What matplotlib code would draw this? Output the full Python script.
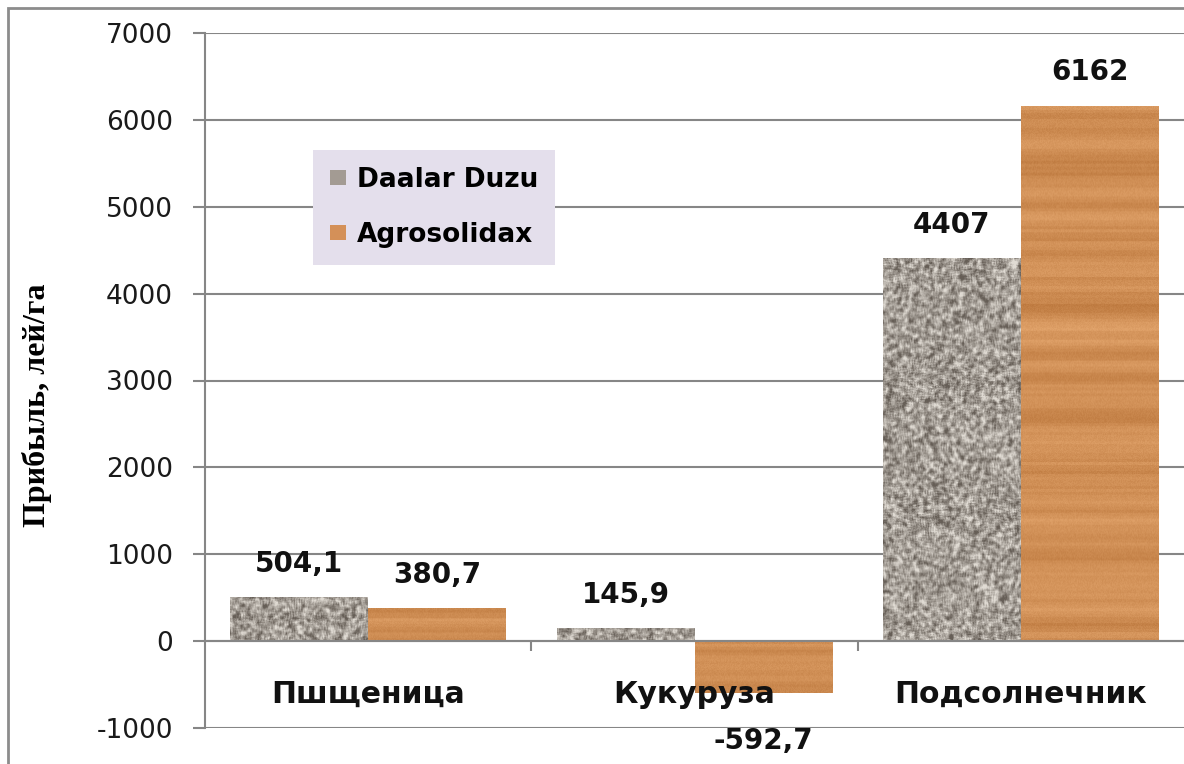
import numpy as np
import matplotlib
matplotlib.use('Agg')
import matplotlib.pyplot as plt
from matplotlib.patches import Rectangle

plt.rcParams['axes.unicode_minus'] = False

# data
categories = ['Пшщеница', 'Кукуруза', 'Подсолнечник']
daalar = [504.1, 145.9, 4407]
agro = [380.7, -592.7, 6162]
daalar_labels = ['504,1', '145,9', '4407']
agro_labels = ['380,7', '-592,7', '6162']
series_names = ['Daalar Duzu', 'Agrosolidax']

W, H = 1184, 764
fig = plt.figure(figsize=(W / 100, H / 100), dpi=100)
ax = fig.add_axes([205 / W, 1 - 728 / H, 1 - 205 / W, (728 - 33) / H])

# spines first: moving a spine resets the ticks
ax.spines['bottom'].set_position(('data', 0))
ax.spines['bottom'].set_color('#868686')
ax.spines['bottom'].set_linewidth(1.5)
ax.spines['bottom'].set_zorder(4)
ax.spines['left'].set_color('#868686')
ax.spines['left'].set_linewidth(1.5)
ax.spines['top'].set_visible(False)
ax.spines['right'].set_visible(False)

rng = np.random.default_rng(7)


def blur(a, n=5):
    k = np.ones(n) / n
    a = np.apply_along_axis(lambda r: np.convolve(r, k, mode='same'), 1, a)
    a = np.apply_along_axis(lambda c: np.convolve(c, k, mode='same'), 0, a)
    return a


def gravel(h, w):
    # grey speckled stone texture
    v = blur(rng.random((h + 8, w + 8)), 4)[4:-4, 4:-4]
    v = (v - v.mean()) / (v.std() + 1e-9)
    v = np.clip(0.5 + 0.22 * v + 0.12 * (rng.random((h, w)) - 0.5), 0, 1)
    dark = np.array([0.40, 0.37, 0.34])
    light = np.array([0.88, 0.86, 0.83])
    return dark + (light - dark) * v[..., None]


def wood(h, w):
    # orange wood grain, horizontal streaks
    rows = rng.random(h // 3 + 2)
    rows = np.convolve(rows, np.ones(3) / 3, mode='same')
    v = np.repeat(rows, 3)[:h][:, None] * np.ones((1, w))
    v = 0.8 * v + 0.2 * rng.random((h, w))
    dark = np.array([0.72, 0.45, 0.22])
    light = np.array([0.90, 0.66, 0.44])
    return dark + (light - dark) * v[..., None]


x = np.arange(len(categories))
bw = 0.422
b1 = ax.bar(x - bw / 2, daalar, bw, color='#a39b93', label=series_names[0], zorder=2)
b2 = ax.bar(x + bw / 2, agro, bw, color='#d49058', label=series_names[1], zorder=2)

for bars, tex in ((b1, gravel), (b2, wood)):
    for r in bars:
        x0, y0 = r.get_x(), r.get_y()
        w, h = r.get_width(), r.get_height()
        rows = int(abs(h) * 0.087) + 3
        im = ax.imshow(tex(rows, 138), extent=(x0, x0 + w, y0 + h, y0),
                       aspect='auto', zorder=3, interpolation='bilinear')
        im.set_clip_path(r)

for bars, labs in ((b1, daalar_labels), (b2, agro_labels)):
    for r, lab in zip(bars, labs):
        val = r.get_height()
        off = 24 if val >= 0 else -35
        ax.annotate(lab, (r.get_x() + r.get_width() / 2, val), xytext=(0, off),
                    textcoords='offset points', ha='center', va='center',
                    fontsize=20, fontweight='bold', color='#111111', zorder=6)

ax.set_xlim(-0.5, 2.5)
ax.set_ylim(-1000, 7000)
ax.set_yticks(range(-1000, 7001, 1000))
ax.tick_params(axis='y', length=9, width=1.5, color='#868686', labelsize=19,
               labelcolor='#1a1a1a', pad=14)
ax.yaxis.grid(True, color='#868686', linewidth=1.5, zorder=0)
ax.set_axisbelow(True)

ax.set_xticks(x)
ax.set_xticks([0.5, 1.5], minor=True)
ax.tick_params(axis='x', which='major', length=0, pad=28)
ax.tick_params(axis='x', which='minor', length=7, width=1.5, color='#868686',
               direction='out')
ax.set_xticklabels(categories, fontsize=21.5, fontweight='bold', color='#111111')
ax.xaxis.set_zorder(5)

ax.set_ylabel('Прибыль, лей/га', family='Liberation Serif', fontsize=23,
              fontweight='bold')
ax.yaxis.set_label_coords((52 - 205) / 979, (728 - 405) / 695)

leg = ax.legend(loc='upper left', bbox_to_anchor=(313 / W, 1 - 150 / H),
                bbox_transform=fig.transFigure, frameon=True, fancybox=False,
                facecolor='#e4dfec', edgecolor='none', framealpha=1,
                prop={'family': 'DejaVu Sans', 'weight': 'bold', 'size': 19},
                handlelength=0.6, handleheight=0.5, handletextpad=0.4,
                labelspacing=1.1, borderpad=0.65, borderaxespad=0)
leg.set_zorder(5)

# outer chart frame
fig.patches.append(Rectangle((8 / W, -0.1), 1.2, 1 - 8 / H + 0.1, transform=fig.transFigure,
                             fill=False, edgecolor='#8c8c8c', linewidth=2))

fig.savefig('out.png', dpi=100)
